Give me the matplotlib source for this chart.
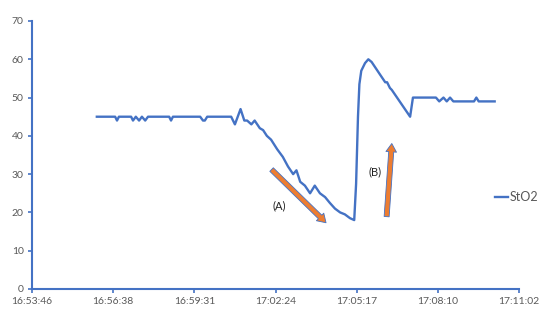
import matplotlib
matplotlib.use("Agg")
import matplotlib.pyplot as plt
from matplotlib.patches import FancyArrowPatch

# Data: seconds after 16:53:45.6 and StO2 values
t_sec = [138, 177, 181, 185, 211, 215, 221, 228, 234, 241, 247, 292, 296, 300,
         358, 364, 368, 373, 424, 432, 444, 452, 458, 467, 474, 485, 492, 500,
         509, 522, 534, 545, 556, 563, 571, 581, 592, 602, 613, 624, 634, 645,
         656, 666, 677, 686, 690, 694, 697, 701, 709, 716, 723, 741, 752, 756,
         762, 766, 805, 811, 860, 867, 876, 883, 890, 897, 941, 946, 951, 985]
sto2 = [45, 45, 44, 45, 45, 44, 45, 44, 45, 44, 45, 45, 44, 45,
        45, 44, 44, 45, 45, 43, 47, 44, 44, 43, 44, 42, 41.5, 40,
        39, 36.5, 34.5, 32, 30, 31, 28, 27, 25, 27, 25, 24, 22.5, 21,
        20, 19.5, 18.5, 18, 27.5, 45, 53.5, 57, 59, 60, 59.3, 56, 54, 54,
        52.5, 52, 45, 50, 50, 49, 50, 49, 50, 49, 49, 50, 49, 49]

x_tick_labels = ["16:53:46", "16:56:38", "16:59:31", "17:02:24",
                 "17:05:17", "17:08:10", "17:11:02"]
y_ticks = [0, 10, 20, 30, 40, 50, 60, 70]
series_name = "StO2"

blue = "#4472C4"
orange = "#ED7D31"
gray = "#595959"

plt.rcParams['font.family'] = ['Lato', 'DejaVu Sans']

fig = plt.figure(figsize=(5.5, 3.21), dpi=100)
ax = fig.add_axes([32 / 550, 32 / 321, (519 - 32) / 550, (289 - 21) / 321])

line, = ax.plot(t_sec, sto2, color=blue, lw=1.7, label=series_name)

step = 172.8
ax.set_xlim(0, step * 6)
ax.set_ylim(0, 70)
ax.set_xticks([i * step for i in range(7)])
ax.set_xticklabels(x_tick_labels)
ax.set_yticks(y_ticks)

for s in ["top", "right"]:
    ax.spines[s].set_visible(False)
for s in ["left", "bottom"]:
    ax.spines[s].set_color(blue)
    ax.spines[s].set_linewidth(1.5)

ax.tick_params(axis="both", colors=blue, labelcolor=gray, labelsize=7.5,
               length=3, width=1.2, pad=3)

# Arrows and labels
for (x0, y0, x1, y1) in [(510, 31.2, 626, 17.3), (755, 18.9, 766, 38.0)]:
    arr = FancyArrowPatch((x0, y0), (x1, y1),
                          arrowstyle="simple,head_width=0.95,head_length=0.75,tail_width=0.45",
                          mutation_scale=8, facecolor=orange, edgecolor=blue,
                          linewidth=0.6, shrinkA=0, shrinkB=0)
    ax.add_patch(arr)

ax.text(526, 21.7, "(A)", fontsize=8, color="#222222", ha="center", va="center")
ax.text(730, 30.5, "(B)", fontsize=8, color="#222222", ha="center", va="center")

leg = fig.legend(handles=[line], loc="center left",
                 bbox_to_anchor=(495 / 550, 1 - 197 / 321),
                 frameon=False, handlelength=1.0, handletextpad=0.2,
                 borderpad=0, borderaxespad=0, fontsize=9)
for txt in leg.get_texts():
    txt.set_color(gray)

fig.savefig("out.png", dpi=100)
